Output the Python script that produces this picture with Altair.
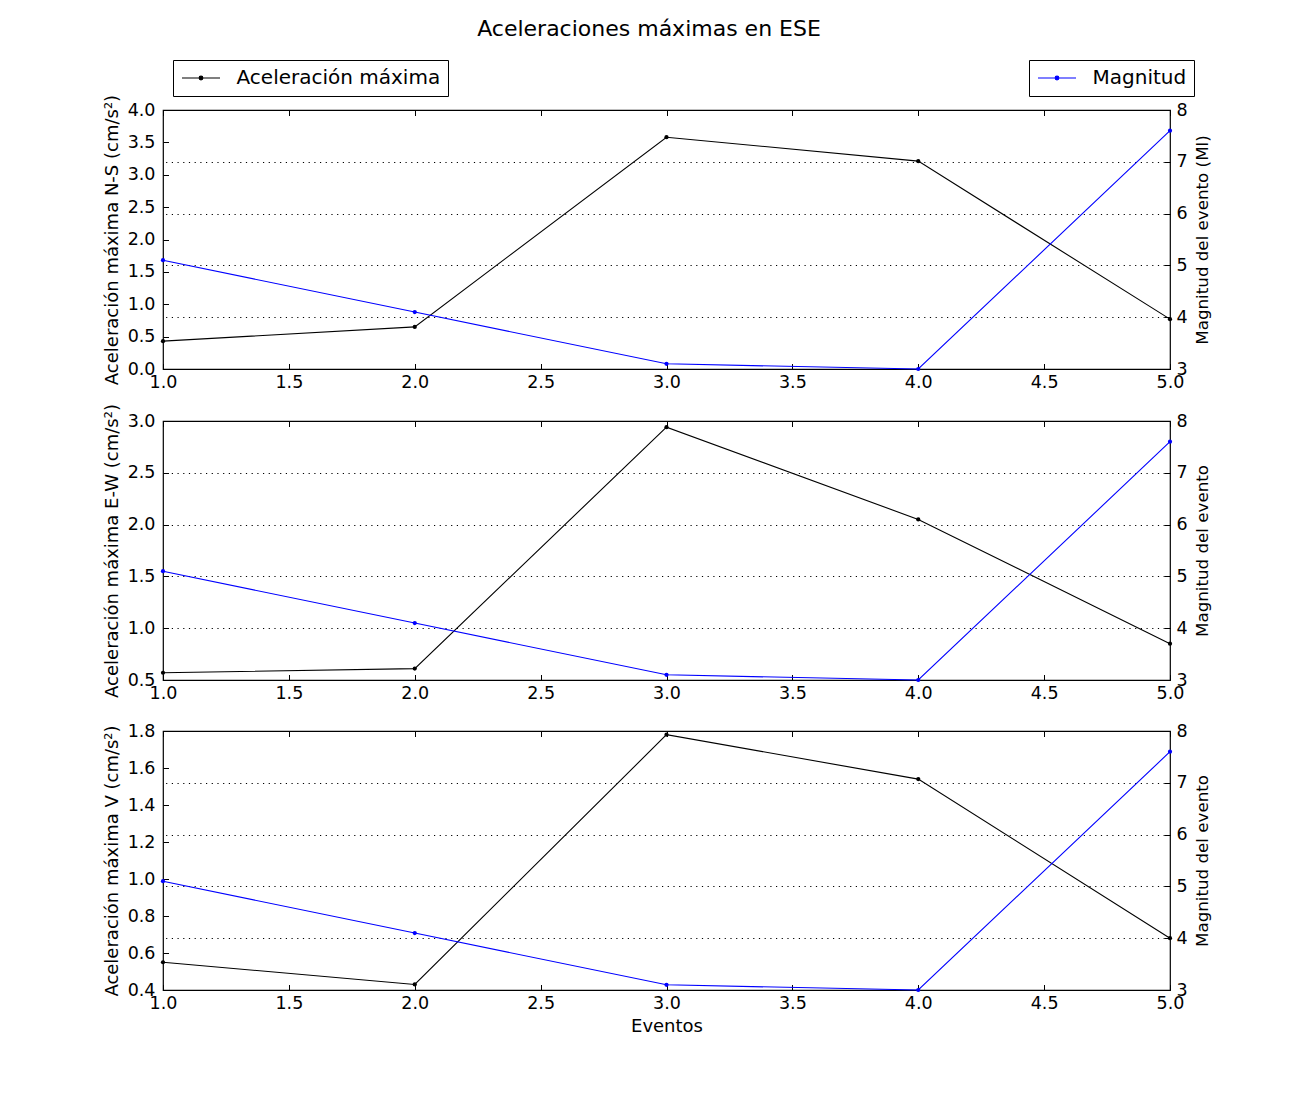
import altair as alt
import pandas as pd

eventos = [1, 2, 3, 4, 5]
magnitud = [5.1, 4.1, 3.1, 3.0, 7.6]
acc_ns = [0.43, 0.65, 3.58, 3.21, 0.77]
acc_ew = [0.57, 0.61, 2.94, 2.05, 0.85]
acc_v = [0.55, 0.43, 1.78, 1.54, 0.68]

x_ticks = [1.0, 1.5, 2.0, 2.5, 3.0, 3.5, 4.0, 4.5, 5.0]

FONT = "DejaVu Sans"
W, H = 1007, 259
TICK_FS = 17.5
TITLE_FS = 18
RTITLE_FS = 16.7
TK = 5.5  # inward tick length

LEGEND_PATH = "M-2,0H2M-0.2,0A0.2,0.2 0 1,1 0.2,0A0.2,0.2 0 1,1 -0.2,0Z"


def legend(x, fill):
    return alt.Legend(title=None, orient="none", legendX=x, legendY=-50,
                      symbolType=LEGEND_PATH, symbolSize=361, symbolOffset=10,
                      symbolStrokeWidth=1.1, symbolFillColor=fill,
                      labelFontSize=20, labelFont=FONT, labelColor="black",
                      labelOffset=25, labelLimit=500, padding=7.5,
                      strokeColor="black", fillColor="white", cornerRadius=0)


def panel(acc, left_title, left_domain, left_step, right_title, x_title, show_legend):
    df = pd.DataFrame({
        "evento": eventos,
        "acc": acc,
        "mag": magnitud,
        "s1": ["Aceleración máxima"] * len(eventos),
        "s2": ["Magnitud"] * len(eventos),
    })
    n = int(round((left_domain[1] - left_domain[0]) / left_step))
    left_vals = [round(left_domain[0] + i * left_step, 2) for i in range(n + 1)]
    xscale = alt.Scale(domain=[1, 5], nice=False, zero=False)
    lscale = alt.Scale(domain=left_domain, nice=False, zero=False)

    xenc = alt.X(
        "evento:Q", scale=xscale,
        axis=alt.Axis(values=x_ticks, format=".1f", grid=False, ticks=True,
                      tickSize=TK, offset=-TK, tickColor="black", tickWidth=1,
                      domain=False, labelPadding=4, labelFontSize=TICK_FS,
                      labelFlush=False, labelFont=FONT, labelColor="black",
                      titleFontSize=TITLE_FS, titleFont=FONT, titleFontWeight="normal",
                      titleColor="black", titlePadding=6,
                      **({"title": x_title} if x_title else {"title": None})),
    )
    xtop = alt.X(
        "evento:Q", scale=xscale,
        axis=alt.Axis(values=x_ticks, orient="top", labels=False, grid=False,
                      ticks=True, tickSize=TK, offset=-TK, tickColor="black",
                      tickWidth=1, domain=False, title=None),
    )

    base = alt.Chart(df)
    black_enc = dict(
        x=xenc,
        y=alt.Y("acc:Q", scale=lscale,
                axis=alt.Axis(values=left_vals, format=".1f", grid=False, ticks=True,
                              tickSize=TK, offset=-TK, tickColor="black", tickWidth=1,
                              domain=False, orient="left", title=left_title,
                              labelPadding=8, labelFontSize=TICK_FS, labelFont=FONT,
                              labelColor="black", titleFontSize=TITLE_FS, titleFont=FONT,
                              titleFontWeight="normal", titleColor="black",
                              titlePadding=6)),
    )
    blue_enc = dict(
        x=alt.X("evento:Q", scale=xscale, axis=None),
        y=alt.Y("mag:Q",
                scale=alt.Scale(domain=[3, 8], nice=False, zero=False),
                axis=alt.Axis(values=[3, 4, 5, 6, 7, 8], format="d", grid=True,
                              gridColor="black", gridDash=[1.2, 4.5], gridWidth=1,
                              gridOpacity=1, ticks=True, tickSize=TK, offset=-TK,
                              tickColor="black", tickWidth=1, domain=False,
                              orient="right", title=right_title, labelPadding=6,
                              labelFontSize=TICK_FS, labelFont=FONT, labelColor="black",
                              titleFontSize=RTITLE_FS, titleFont=FONT,
                              titleFontWeight="normal", titleColor="black",
                              titleAngle=270, titleBaseline="top",
                              titlePadding=7)),
    )
    pt = dict(filled=True, size=18)
    if show_legend:
        black_enc["color"] = alt.Color(
            "s1:N", scale=alt.Scale(domain=["Aceleración máxima"], range=["black"]),
            legend=legend(10, "black"))
        blue_enc["color"] = alt.Color(
            "s2:N", scale=alt.Scale(domain=["Magnitud"], range=["#0000ff"]),
            legend=legend(866, "#0000ff"))
        black = base.mark_line(strokeWidth=1.1, point=alt.OverlayMarkDef(**pt)).encode(**black_enc)
        blue = base.mark_line(strokeWidth=1.1, point=alt.OverlayMarkDef(**pt)).encode(**blue_enc)
    else:
        black = base.mark_line(color="black", strokeWidth=1.1,
                               point=alt.OverlayMarkDef(color="black", **pt)).encode(**black_enc)
        blue = base.mark_line(color="#0000ff", strokeWidth=1.1,
                              point=alt.OverlayMarkDef(color="#0000ff", **pt)).encode(**blue_enc)

    top_ticks = base.mark_line(opacity=0).encode(
        x=xtop, y=alt.Y("acc:Q", scale=lscale, axis=None))

    return (alt.layer(black, blue, top_ticks)
            .resolve_scale(y="independent", color="independent")
            .resolve_axis(x="independent")
            .properties(width=W, height=H))


p1 = panel(acc_ns, "Aceleración máxima N-S (cm/s²)", [0, 4], 0.5, "Magnitud del evento (Ml)", None, True)
p2 = panel(acc_ew, "Aceleración máxima E-W (cm/s²)", [0.5, 3.0], 0.5, "Magnitud del evento", None, False)
p3 = panel(acc_v, "Aceleración máxima V (cm/s²)", [0.4, 1.8], 0.2, "Magnitud del evento", "Eventos", False)

top2 = alt.vconcat(p1, p2, spacing=10).resolve_scale(y="independent", color="independent")

chart = alt.vconcat(top2, p3, spacing=18).resolve_scale(y="independent", color="independent").properties(
    title=alt.TitleParams("Aceleraciones máximas en ESE", fontSize=22, font=FONT,
                          fontWeight="normal", color="black", anchor="middle",
                          offset=18, dx=-8),
    padding={"left": 94, "top": 9, "right": 10, "bottom": 10},
).configure(background="white").configure_view(stroke="black", strokeWidth=1.2)

chart.save("out.html", embed_options={"renderer": "svg", "actions": False})
